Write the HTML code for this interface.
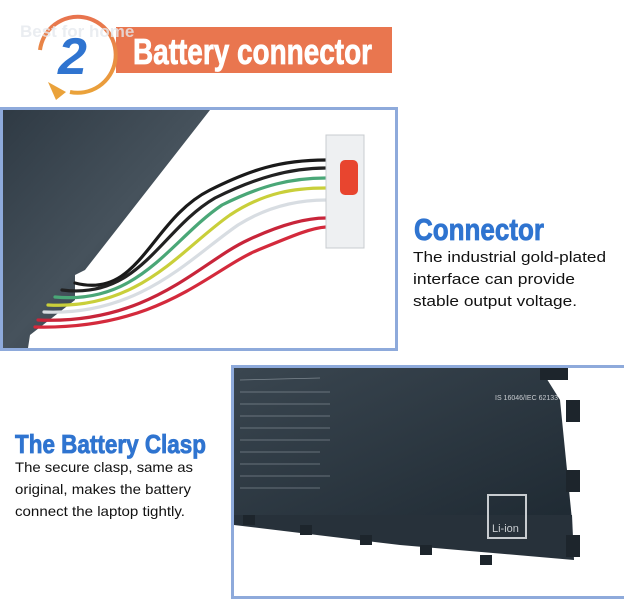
<!DOCTYPE html>
<html><head><meta charset="utf-8"><style>
html,body{margin:0;padding:0;background:#fff;width:624px;height:600px;overflow:hidden}
svg{display:block}
</style></head><body>
<svg width="624" height="600" viewBox="0 0 624 600" xmlns="http://www.w3.org/2000/svg">
<defs>
<linearGradient id="arc" x1="0" y1="0" x2="0" y2="1"><stop offset="0" stop-color="#e8744e"/><stop offset="1" stop-color="#eaa23a"/></linearGradient>
<linearGradient id="bat1" x1="0" y1="0" x2="1" y2="1"><stop offset="0" stop-color="#2f3a44"/><stop offset="0.5" stop-color="#46525c"/><stop offset="1" stop-color="#2a343c"/></linearGradient>
<linearGradient id="bat2" x1="0" y1="0" x2="1" y2="1"><stop offset="0" stop-color="#3a4650"/><stop offset="1" stop-color="#1f2a33"/></linearGradient>
</defs>
<!-- header -->
<rect x="116" y="27" width="276" height="46" fill="#e9764f"/>
<text x="133" y="64" font-family="Liberation Sans Narrow, Liberation Sans, sans-serif" font-weight="bold" font-size="36" fill="#fff" stroke="#fff" stroke-width="0.8" textLength="239" lengthAdjust="spacingAndGlyphs">Battery connector</text>
<path d="M40 50 A38 38 0 1 1 70 92" fill="none" stroke="url(#arc)" stroke-width="4"/>
<polygon points="48,82 66,92 56,100" fill="#eaa23a"/>
<text x="58" y="74" font-family="Liberation Sans, sans-serif" font-weight="bold" font-style="italic" font-size="52" fill="#2f74d0">2</text>
<text x="20" y="37" font-family="Liberation Sans, sans-serif" font-weight="bold" font-size="17" fill="#e6e9ee" opacity="0.8">Best for home</text>
<!-- box 1 -->
<rect x="1.5" y="108.5" width="395" height="241" fill="#fff" stroke="#8eaadb" stroke-width="3"/>
<polygon points="3,110 210,110 85,270 75,275 75,300 30,335 28,348 3,348" fill="url(#bat1)"/>
<g fill="none" stroke-width="3.2" stroke-linecap="round">
<path d="M75 283 C140 300 150 220 210 190 C250 170 280 160 326 160" stroke="#1a1a1a"/>
<path d="M62 290 C140 300 160 230 215 198 C255 178 290 168 326 168" stroke="#222"/>
<path d="M55 297 C140 305 170 240 222 205 C262 185 292 178 326 178" stroke="#4aa777"/>
<path d="M48 305 C140 310 180 250 230 215 C265 192 295 188 326 188" stroke="#c9cf3a"/>
<path d="M44 312 C140 316 190 258 238 225 C270 205 300 200 326 200" stroke="#d8dde2"/>
<path d="M38 320 C150 325 200 262 248 240 C280 225 305 218 326 218" stroke="#c8253a"/>
<path d="M35 327 C160 330 210 270 258 250 C290 237 310 228 326 227" stroke="#d42a3c"/>
</g>
<rect x="326" y="135" width="38" height="113" fill="#eef0f2" stroke="#c8ccd0"/>
<rect x="340" y="160" width="18" height="35" rx="5" fill="#e8452f"/>
<!-- connector text -->
<text x="414" y="240" font-family="Liberation Sans Narrow, Liberation Sans, sans-serif" font-weight="bold" font-size="31" fill="#2f74d0" stroke="#2f74d0" stroke-width="0.8" textLength="130" lengthAdjust="spacingAndGlyphs">Connector</text>
<g font-family="Liberation Sans, sans-serif" font-size="15" fill="#111">
<text x="413" y="262" textLength="193" lengthAdjust="spacingAndGlyphs">The industrial gold-plated</text>
<text x="413" y="284" textLength="162" lengthAdjust="spacingAndGlyphs">interface can provide</text>
<text x="413" y="306" textLength="164" lengthAdjust="spacingAndGlyphs">stable output voltage.</text>
</g>
<!-- clasp text -->
<text x="15" y="453" font-family="Liberation Sans Narrow, Liberation Sans, sans-serif" font-weight="bold" font-size="26" fill="#2f74d0" stroke="#2f74d0" stroke-width="0.8" textLength="191" lengthAdjust="spacingAndGlyphs">The Battery Clasp</text>
<g font-family="Liberation Sans, sans-serif" font-size="14" fill="#111">
<text x="15" y="472" textLength="178" lengthAdjust="spacingAndGlyphs">The secure clasp, same as</text>
<text x="15" y="494" textLength="176" lengthAdjust="spacingAndGlyphs">original, makes the battery</text>
<text x="15" y="516" textLength="170" lengthAdjust="spacingAndGlyphs">connect the laptop tightly.</text>
</g>
<!-- box 2 -->
<rect x="232.5" y="366.5" width="393" height="231" fill="#fff" stroke="#8eaadb" stroke-width="3"/>
<polygon points="234,368 540,368 560,400 572,520 234,520" fill="url(#bat2)"/>
<polygon points="234,515 572,515 574,560 400,545 234,525" fill="#27313a"/>
<g fill="#1d252c">
<rect x="540" y="368" width="28" height="12"/>
<rect x="566" y="400" width="14" height="22"/>
<rect x="566" y="470" width="14" height="22"/>
<rect x="566" y="535" width="14" height="22"/>
<rect x="243" y="515" width="12" height="10"/>
<rect x="300" y="525" width="12" height="10"/>
<rect x="360" y="535" width="12" height="10"/>
<rect x="420" y="545" width="12" height="10"/>
<rect x="480" y="555" width="12" height="10"/>
</g>
<rect x="488" y="495" width="38" height="43" fill="none" stroke="#c8ccd0" stroke-width="2"/>
<text x="492" y="532" font-family="Liberation Sans, sans-serif" font-size="11" fill="#c8ccd0">Li-ion</text>
<text x="495" y="400" font-family="Liberation Sans, sans-serif" font-size="7" fill="#c8ccd0">IS 16046/IEC 62133</text>
<g stroke="#9aa3ab" stroke-width="0.7" opacity="0.7">
<line x1="240" y1="380" x2="320" y2="378"/><line x1="240" y1="392" x2="330" y2="392"/><line x1="240" y1="404" x2="330" y2="404"/><line x1="240" y1="416" x2="330" y2="416"/><line x1="240" y1="428" x2="330" y2="428"/><line x1="240" y1="440" x2="330" y2="440"/><line x1="240" y1="452" x2="320" y2="452"/><line x1="240" y1="464" x2="320" y2="464"/><line x1="240" y1="476" x2="330" y2="476"/><line x1="240" y1="488" x2="320" y2="488"/>
</g>
</svg>
</body></html>
